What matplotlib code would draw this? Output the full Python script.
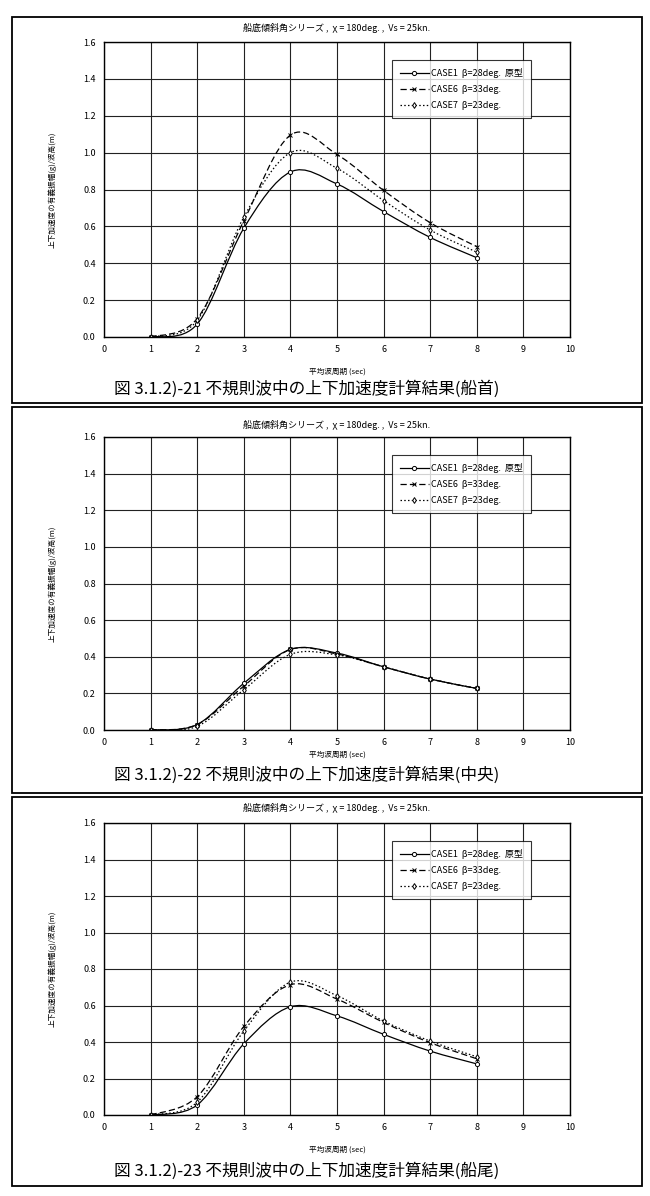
import matplotlib.pyplot as plt
import numpy as np
from matplotlib.path import Path
from matplotlib.patches import PathPatch, Rectangle
from matplotlib.lines import Line2D

plt.rcParams['font.family'] = ['Noto Sans CJK JP', 'DejaVu Sans']

# wave period (sec)
periods = [1, 2, 3, 4, 5, 6, 7, 8]

# panel 1 : bow
bow_case1 = [0.0, 0.07, 0.59, 0.895, 0.83, 0.68, 0.54, 0.43]
bow_case6 = [0.0, 0.10, 0.63, 1.095, 0.99, 0.795, 0.62, 0.49]
bow_case7 = [0.0, 0.09, 0.65, 1.00, 0.915, 0.74, 0.58, 0.46]

# panel 2 : midship
mid_case1 = [0.0, 0.03, 0.255, 0.44, 0.42, 0.345, 0.278, 0.227]
mid_case6 = [0.0, 0.03, 0.24, 0.44, 0.415, 0.345, 0.278, 0.227]
mid_case7 = [0.0, 0.02, 0.22, 0.413, 0.41, 0.345, 0.278, 0.227]

# panel 3 : stern
stern_case1 = [0.0, 0.055, 0.39, 0.593, 0.543, 0.442, 0.35, 0.28]
stern_case6 = [0.0, 0.10, 0.485, 0.714, 0.635, 0.507, 0.396, 0.308]
stern_case7 = [0.0, 0.07, 0.46, 0.728, 0.654, 0.515, 0.405, 0.319]

legend_labels = ['CASE1  β=28deg.  原型', 'CASE6  β=33deg.', 'CASE7  β=23deg.']
panel_title = '船底傾斜角シリーズ ,  χ = 180deg. ,  Vs = 25kn.'
xlabel = '平均波周期 (sec)'
ylabel = '上下加速度の有義振幅(g)/波高(m)'
captions = ['図 3.1.2)-21 不規則波中の上下加速度計算結果(船首)',
            '図 3.1.2)-22 不規則波中の上下加速度計算結果(中央)',
            '図 3.1.2)-23 不規則波中の上下加速度計算結果(船尾)']
panels = [(bow_case1, bow_case6, bow_case7),
          (mid_case1, mid_case6, mid_case7),
          (stern_case1, stern_case6, stern_case7)]

styles = [dict(ls='-', marker='o', ms=3.0),
          dict(ls=(0, (5, 2.5)), marker='x', ms=3.5),
          dict(ls=(0, (1.2, 1.8)), marker='d', ms=3.0)]

W, H = 650, 1196


def smooth_path(xs, ys):
    # catmull-rom style bezier through the points (like a spreadsheet "smoothed line")
    p = np.column_stack([xs, ys]).astype(float)
    n = len(p)
    verts = [p[0]]
    codes = [Path.MOVETO]
    for i in range(n - 1):
        p0 = p[i - 1] if i > 0 else p[i]
        p3 = p[i + 2] if i + 2 < n else p[i + 1]
        c1 = p[i] + (p[i + 1] - p0) / 6.0
        c2 = p[i + 1] - (p3 - p[i]) / 6.0
        verts += [c1, c2, p[i + 1]]
        codes += [Path.CURVE4] * 3
    return Path(verts, codes)


def fx(px):
    return px / W


def fy(py):
    return 1 - py / H


fig = plt.figure(figsize=(6.5, 11.96), dpi=100)

# pixel layout of each panel: (box top, box bottom, title y, axes top, axes bottom, xlabel y, caption y)
layout = [(17, 403, 28, 42, 337, 372, 389),
          (407, 793, 425, 437, 730, 755, 775),
          (797, 1186, 808, 823, 1115, 1150, 1171)]

for k, (series, lay) in enumerate(zip(panels, layout)):
    btop, bbot, ty, atop, abot, xly, cy = lay
    fig.patches.append(Rectangle((fx(12), fy(bbot)), fx(642) - fx(12), fy(btop) - fy(bbot),
                                 transform=fig.transFigure, fill=False, lw=1.3, ec='black'))
    ax = fig.add_axes([fx(104), fy(abot), fx(570) - fx(104), fy(atop) - fy(abot)])
    ax.set_xlim(0, 10)
    ax.set_ylim(0, 1.6)
    ax.set_xticks(range(0, 11))
    ax.set_yticks(np.arange(0, 1.61, 0.2))
    ax.set_yticklabels(['%.1f' % v for v in np.arange(0, 1.61, 0.2)])
    ax.tick_params(length=0, labelsize=6.5, pad=6)
    ax.grid(True, color='#222222', lw=0.8)
    ax.set_axisbelow(True)
    for sp in ax.spines.values():
        sp.set_linewidth(1.0)

    handles = []
    for vals, st, lab in zip(series, styles, legend_labels):
        ax.add_patch(PathPatch(smooth_path(periods, vals), fill=False, ec='black',
                               lw=0.9, ls=st['ls']))
        ax.plot(periods, vals, ls='none', marker=st['marker'], ms=st['ms'],
                mfc='white', mec='black', mew=0.7)
        handles.append(Line2D([], [], color='black', lw=0.9, ls=st['ls'], marker=st['marker'],
                              ms=st['ms'], mfc='white', mec='black', mew=0.7, label=lab))
    leg = ax.legend(handles=handles, loc='upper right', bbox_to_anchor=(0.927, 0.955),
                    fontsize=6.5, frameon=True, fancybox=False, edgecolor='black',
                    handlelength=3.2, handletextpad=0.3, borderpad=0.9, labelspacing=0.8)
    leg.get_frame().set_linewidth(0.8)

    fig.text(fx(337), fy(ty), panel_title, ha='center', va='center', fontsize=6.5)
    fig.text(fx(337), fy(xly), xlabel, ha='center', va='center', fontsize=5.5)
    fig.text(fx(52), fy((atop + abot) / 2), ylabel, ha='center', va='center',
             rotation=90, fontsize=5.5)
    fig.text(fx(307), fy(cy), captions[k], ha='center', va='center', fontsize=12)

fig.savefig('out.png', dpi=100)
